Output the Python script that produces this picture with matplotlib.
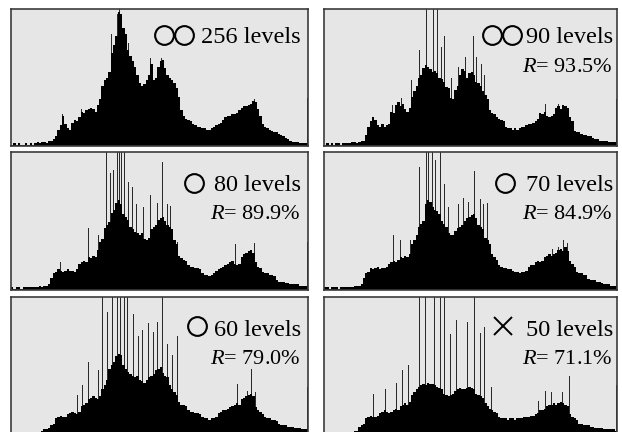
import numpy as np
import matplotlib
matplotlib.use("Agg")
import matplotlib.pyplot as plt

plt.rcParams["font.family"] = ["Liberation Serif", "DejaVu Serif"]
plt.rcParams["mathtext.fontset"] = "custom"
plt.rcParams["mathtext.rm"] = "Liberation Serif"
plt.rcParams["mathtext.it"] = "Liberation Serif:italic"

# ── Data: histogram bodies (128 groups of 2 grey levels, % of panel height) ──
hist_256 = [
    1, 2, 1, 2, 1, 1, 2, 1, 2, 1, 2, 3, 2, 3, 3, 2,
    4, 4, 5, 7, 12, 15, 22, 16, 13, 12, 17, 19, 18, 21, 25, 24,
    26, 27, 28, 27, 25, 30, 34, 44, 48, 50, 54, 68, 74, 80, 98, 96,
    86, 82, 70, 66, 62, 58, 52, 46, 44, 45, 48, 52, 60, 48, 50, 58,
    62, 63, 57, 52, 50, 48, 46, 42, 36, 26, 22, 20, 19, 18, 16, 15,
    14, 14, 13, 13, 12, 12, 13, 14, 15, 16, 17, 19, 21, 22, 22, 23,
    23, 24, 26, 28, 29, 29, 30, 31, 33, 32, 27, 22, 16, 14, 13, 12,
    11, 10, 10, 9, 8, 7, 6, 5, 4, 3, 3, 3, 2, 2, 2, 2,
]
hist_90 = [
    1, 2, 1, 2, 1, 2, 2, 1, 2, 2, 2, 2, 3, 3, 2, 3,
    4, 4, 8, 14, 18, 21, 19, 15, 14, 16, 14, 15, 16, 25, 24, 30,
    32, 29, 31, 27, 25, 28, 36, 40, 44, 50, 52, 57, 59, 58, 56, 54,
    55, 53, 50, 49, 47, 43, 42, 35, 34, 41, 44, 52, 56, 55, 50, 53,
    54, 52, 47, 46, 44, 40, 37, 34, 26, 24, 23, 21, 20, 19, 18, 14,
    13, 13, 12, 13, 12, 13, 14, 14, 15, 16, 16, 17, 18, 20, 24, 23,
    25, 22, 21, 22, 23, 28, 29, 27, 30, 29, 28, 21, 18, 11, 10, 10,
    9, 8, 8, 7, 7, 6, 5, 5, 4, 4, 4, 4, 3, 3, 3, 3,
]
hist_80 = [
    2, 1, 2, 2, 1, 2, 2, 2, 2, 2, 2, 2, 3, 2, 3, 3,
    4, 9, 12, 13, 15, 14, 13, 14, 15, 14, 14, 13, 15, 19, 20, 21,
    20, 24, 23, 25, 24, 29, 35, 37, 45, 47, 49, 56, 58, 63, 65, 62,
    55, 53, 51, 46, 44, 42, 41, 40, 41, 37, 36, 38, 44, 46, 47, 51,
    52, 53, 50, 47, 46, 44, 36, 33, 25, 23, 22, 21, 18, 17, 17, 16,
    16, 15, 12, 11, 11, 10, 11, 12, 14, 15, 16, 17, 18, 19, 20, 21,
    19, 18, 19, 24, 26, 27, 28, 29, 27, 20, 17, 16, 13, 12, 12, 11,
    11, 10, 7, 6, 6, 6, 5, 5, 4, 4, 4, 4, 3, 3, 3, 3,
]
hist_70 = [
    2, 2, 1, 2, 2, 2, 1, 2, 2, 2, 2, 2, 2, 3, 3, 3,
    4, 9, 12, 13, 16, 15, 16, 17, 15, 16, 16, 17, 19, 20, 21, 20,
    22, 24, 23, 25, 24, 26, 33, 36, 40, 46, 48, 50, 62, 65, 64, 60,
    58, 57, 55, 50, 48, 46, 41, 40, 40, 43, 45, 46, 47, 50, 52, 53,
    54, 55, 52, 47, 46, 44, 38, 36, 33, 26, 24, 22, 18, 17, 16, 16,
    15, 15, 14, 13, 13, 12, 13, 13, 14, 17, 18, 18, 20, 21, 20, 21,
    24, 25, 26, 25, 26, 27, 29, 30, 28, 31, 28, 21, 19, 17, 13, 12,
    12, 11, 11, 8, 7, 7, 7, 6, 6, 5, 4, 4, 4, 3, 3, 3,
]
hist_60 = [
    1, 1, 1, 2, 1, 1, 2, 1, 1, 2, 2, 2, 2, 3, 4, 4,
    5, 7, 8, 12, 13, 14, 13, 13, 15, 16, 17, 16, 15, 17, 21, 22,
    23, 26, 27, 28, 27, 26, 28, 33, 36, 40, 48, 51, 53, 57, 59, 58,
    51, 48, 46, 44, 43, 42, 43, 40, 39, 38, 40, 42, 43, 44, 47, 48,
    49, 45, 43, 42, 36, 33, 31, 29, 24, 22, 22, 21, 18, 17, 17, 16,
    16, 15, 13, 12, 12, 11, 12, 12, 13, 16, 17, 18, 18, 19, 20, 21,
    22, 23, 22, 26, 27, 28, 29, 30, 28, 20, 18, 17, 15, 13, 12, 12,
    11, 11, 10, 8, 7, 7, 7, 6, 6, 6, 5, 5, 5, 4, 4, 4,
]
hist_50 = [
    1, 1, 2, 1, 1, 2, 1, 1, 2, 1, 2, 2, 2, 3, 3, 6,
    7, 8, 12, 13, 14, 13, 13, 14, 16, 17, 18, 17, 16, 17, 18, 19,
    18, 21, 22, 23, 22, 24, 29, 31, 33, 35, 36, 37, 36, 38, 37, 37,
    36, 35, 34, 33, 30, 29, 28, 29, 30, 32, 33, 34, 33, 33, 34, 35,
    34, 33, 30, 29, 28, 27, 23, 21, 19, 18, 17, 16, 13, 12, 12, 12,
    11, 12, 12, 11, 12, 12, 12, 13, 13, 13, 14, 14, 15, 16, 18, 18,
    19, 21, 22, 22, 23, 22, 23, 24, 23, 22, 21, 15, 13, 12, 11, 8,
    8, 7, 7, 7, 6, 6, 5, 5, 5, 5, 4, 4, 4, 4, 4, 3,
]

# ── Data: isolated spike bins (grey level, % of panel height) ──
spikes_256_bin = [44, 60, 86, 91, 93, 98, 101, 120, 129, 209, 255]
spikes_256_val = [23, 27, 82, 96, 100, 82, 75, 64, 64, 34, 35]
spikes_90_bin = [59, 67, 76, 83, 86, 89, 95, 99, 102, 105, 111, 117, 123,
                 130, 133, 137, 140, 193, 204, 210, 213, 255]
spikes_90_val = [30, 35, 48, 70, 100, 100, 100, 100, 72, 80, 50, 58, 65,
                 80, 65, 60, 52, 31, 31, 30, 28, 34]
spikes_80_bin = [42, 59, 66, 75, 82, 85, 88, 91, 93, 95, 97, 101, 104, 108,
                 114, 120, 126, 130, 134, 137, 143, 193, 209, 255]
spikes_80_val = [20, 27, 45, 40, 100, 85, 87, 100, 100, 100, 100, 78, 75, 62,
                 60, 69, 63, 93, 62, 61, 35, 33, 34, 35]
spikes_70_bin = [60, 66, 72, 75, 79, 83, 86, 89, 91, 94, 97, 101, 105, 108,
                 113, 117, 121, 126, 131, 136, 139, 142, 193, 199, 204, 209,
                 212, 255]
spikes_70_val = [40, 36, 37, 36, 43, 89, 92, 100, 100, 100, 94, 100, 77, 60,
                 63, 62, 67, 64, 86, 66, 62, 63, 24, 30, 31, 36, 34, 36]
spikes_60_bin = [57, 61, 66, 71, 75, 78, 83, 87, 91, 94, 97, 100, 105, 109,
                 113, 118, 122, 126, 130, 134, 139, 143, 195, 203, 207, 210,
                 255]
spikes_60_val = [29, 36, 53, 47, 47, 100, 89, 100, 100, 100, 100, 100, 88, 72,
                 76, 81, 75, 82, 100, 66, 58, 72, 37, 32, 48, 31, 35]
spikes_50_bin = [43, 53, 58, 63, 68, 73, 79, 83, 88, 93, 96, 101, 105, 110,
                 115, 120, 125, 131, 136, 140, 146, 187, 193, 198, 203, 208,
                 214, 255]
spikes_50_val = [30, 33, 45, 38, 47, 51, 87, 100, 100, 100, 100, 100, 100, 73,
                 83, 100, 82, 100, 74, 78, 35, 25, 32, 31, 33, 31, 43, 36]

levels = ["256 levels", "90 levels", "80 levels", "70 levels", "60 levels", "50 levels"]
rates = [None, "93.5%", "89.9%", "84.9%", "79.0%", "71.1%"]
marks = ["oo", "oo", "o", "o", "o", "x"]

bodies = [hist_256, hist_90, hist_80, hist_70, hist_60, hist_50]
spike_bins = [spikes_256_bin, spikes_90_bin, spikes_80_bin,
              spikes_70_bin, spikes_60_bin, spikes_50_bin]
spike_vals = [spikes_256_val, spikes_90_val, spikes_80_val,
              spikes_70_val, spikes_60_val, spikes_50_val]

# ── Figure layout (pixel geometry of the reference) ──
W, H = 622, 432
fig = plt.figure(figsize=(W / 100, H / 100), dpi=100)

cols = [(11, 297), (324, 293)]            # left, width  (px)
rows = [(9, 137), (152, 138), (297, 138)]  # top, height  (px)
text_y = [(34, 63), (39, 67), (39, 67)]    # baseline offsets from axes top
text_dx = [-7, -4]
sym_dx = [[(-144, -124), (-125, -105)],
          [(-114,), (-112,)],
          [(-111,), (-114,)]]
sym_dy = [26, 31, 29]

for i in range(6):
    r, c = divmod(i, 2)
    left, width = cols[c]
    top, height = rows[r]
    ax = fig.add_axes([left / W, 1 - (top + height) / H, width / W, height / H])
    ax.set_facecolor("#e6e6e6")
    for sp in ax.spines.values():
        sp.set_color("#3c3c3c")
        sp.set_linewidth(1.2)
    ax.set_xticks([])
    ax.set_yticks([])
    ax.set_xlim(0, 256)
    ax.set_ylim(0, 100)

    # thin spikes, then the solid body drawn as one filled step outline
    ax.bar(np.array(spike_bins[i]) + 0.15, spike_vals[i], width=0.75,
           align="edge", color="#2a2a2a", linewidth=0, zorder=1)
    body = np.array(bodies[i])
    edges = np.linspace(0, 256, len(body) + 1)
    ax.stairs(body, edges, fill=True, color="black", zorder=2)

    ty1, ty2 = text_y[r]
    ax.annotate(levels[i], xy=(1, 1), xycoords="axes fraction",
                xytext=(text_dx[c], -ty1), textcoords="offset pixels",
                ha="right", va="baseline", fontsize=17.5, zorder=5)
    if rates[i]:
        ax.annotate(r"$R$= " + rates[i], xy=(1, 1), xycoords="axes fraction",
                    xytext=(text_dx[c], -ty2), textcoords="offset pixels",
                    ha="right", va="baseline", fontsize=16, zorder=5)

    for dx in sym_dx[r][c]:
        x_sym = 1 + dx / width
        y_sym = 1 - sym_dy[r] / height
        if marks[i] == "x":
            ax.plot([x_sym], [y_sym], marker="x", ms=12.5, mew=1.4,
                    color="black", transform=ax.transAxes, clip_on=False)
        else:
            ax.plot([x_sym], [y_sym], marker="o", ms=13.5, mew=1.5,
                    mfc="none", mec="black", transform=ax.transAxes,
                    clip_on=False)

fig.savefig("out.png", dpi=100, facecolor="white")
